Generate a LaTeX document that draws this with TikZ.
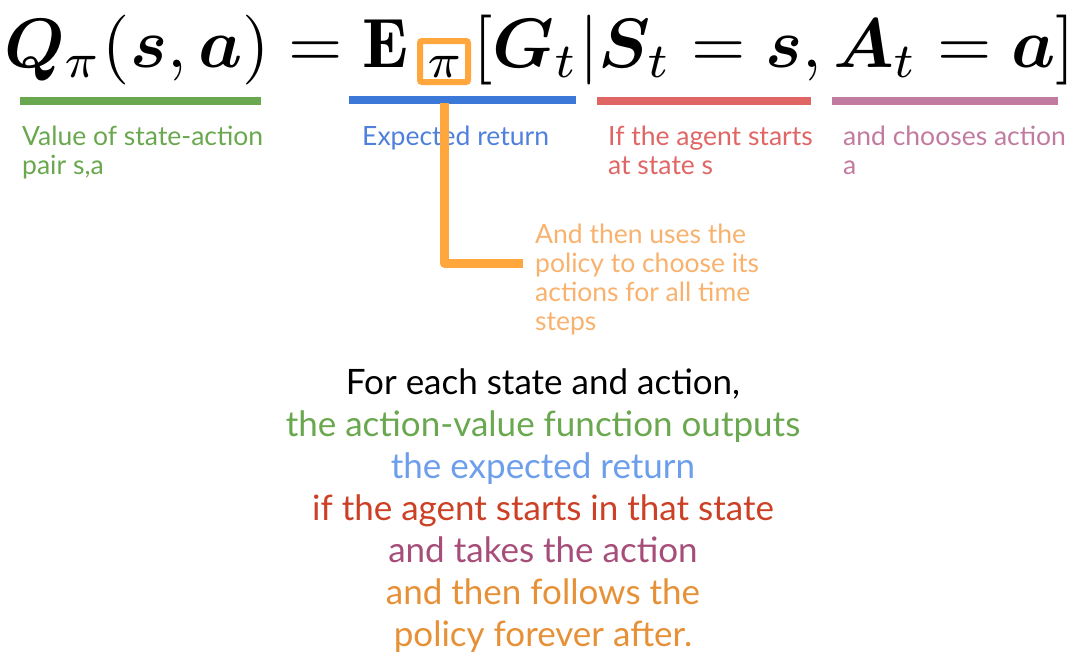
\documentclass[tikz,border=0pt]{standalone}
\usepackage{amsmath,bm,graphicx}
\usepackage{fontspec}
\newfontfamily\lato{Lato}
\definecolor{ugreen}{HTML}{6AA84F}
\definecolor{ublue}{HTML}{3C78D8}
\definecolor{tblue}{HTML}{4F80DC}
\definecolor{ured}{HTML}{E06666}
\definecolor{upurple}{HTML}{C27BA0}
\definecolor{uorange}{HTML}{FFA73D}
\definecolor{torange}{HTML}{F9B26E}
\definecolor{bblue}{HTML}{6D9EEB}
\definecolor{bred}{HTML}{CC4125}
\definecolor{bpurple}{HTML}{A64D79}
\definecolor{borange}{HTML}{E69138}
\begin{document}
\begin{tikzpicture}[x=1pt,y=-1pt,
  lbl/.style={font=\lato\fontsize{26.5}{29}\selectfont, align=left, anchor=base west, inner sep=0pt},
  uline/.style={line width=8pt},
  summary/.style={font=\lato\fontsize{35}{42}\selectfont, align=center, anchor=base, inner sep=0pt}]
\path[use as bounding box] (0,0) rectangle (1085,667);
% formula
\node[anchor=base west, inner sep=0pt] (formula) at (4,67)
  {\resizebox{1071pt}{!}{$\bm{Q}_{\pi}(\bm{s},\bm{a}) = \mathbf{E}_{\mkern6mu\pi}\mkern2mu[\bm{G}_t|\bm{S}_t = \bm{s},\bm{A}_t = \bm{a}]$}};
% underlines
\draw[uline, ugreen] (20,101) -- (261,101);
\draw[uline, ublue] (349,100) -- (576,100);
\draw[uline, ured] (597,101) -- (811,101);
\draw[uline, upurple] (832,101) -- (1058,101);
% labels (anchored at the baseline of their last line)
\node[lbl, text=ugreen] (vlab) at (22,174) {Value of state-action\\pair s,a};
\node[lbl, text=tblue] (elab) at (362,145) {Expected return};
\node[lbl, text=ured] (slab) at (608,174) {If the agent starts\\at state s};
\node[lbl, text=upurple] (alab) at (843,174) {and chooses action\\a};
\node[lbl, text=torange] (plab) at (535,330) {And then uses the\\policy to choose its\\actions for all time\\steps};
% pi box and connector
\node[draw=uorange, line width=6pt, rounded corners=2pt, minimum width=48pt, minimum height=41pt, inner sep=0pt] (pibox) at (444,61.5) {};
\coordinate (ctop) at (445,103);
\coordinate (cend) at (523,263);
\draw[uorange, line width=9pt, line join=round] (pibox.south |- ctop) |- (cend);
% summary
\node[summary] (summ) at (543,646) {For each state and action,\\
  \textcolor{ugreen}{the action-value function outputs}\\
  \textcolor{bblue}{the expected return}\\
  \textcolor{bred}{if the agent starts in that state}\\
  \textcolor{bpurple}{and takes the action}\\
  \textcolor{borange}{and then follows the}\\
  \textcolor{borange}{policy forever after.}};
\end{tikzpicture}
\end{document}
